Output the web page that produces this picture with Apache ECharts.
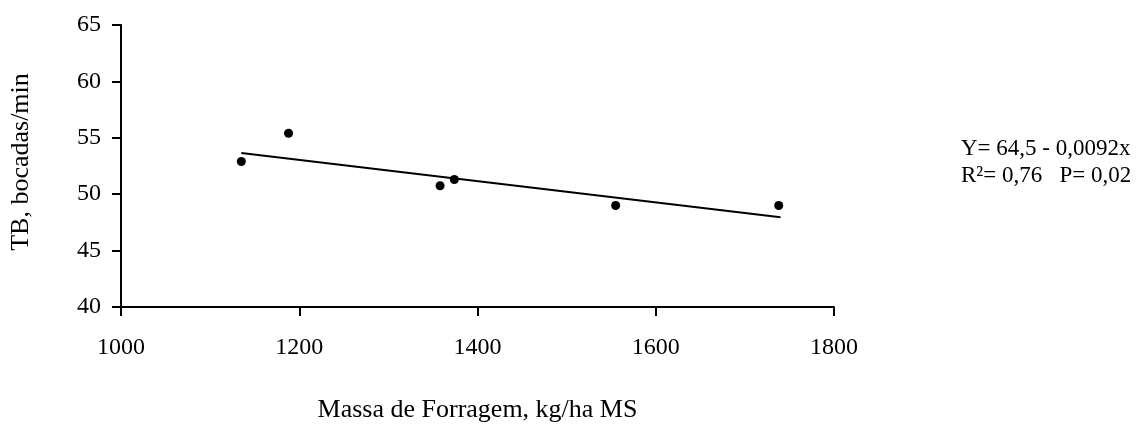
<!DOCTYPE html>
<html>
<head>
<meta charset="utf-8">
<script src="https://cdn.jsdelivr.net/npm/echarts@6/dist/echarts.min.js"></script>
<style>html,body{margin:0;padding:0;background:#fff}#c{width:1142px;height:425px}</style>
</head>
<body>
<div id="c"></div>
<script>
// Observed points (Massa de Forragem, TB)
const massa = [1135, 1188, 1358, 1374, 1555, 1738];
const tb = [52.9, 55.4, 50.75, 51.3, 49.0, 49.0];
// Regression line endpoints as drawn
const lineX = [1135, 1740];
const lineY = [53.65, 47.95];
const xTicks = [1000, 1200, 1400, 1600, 1800];
const yTicks = [40, 45, 50, 55, 60, 65];
const xName = 'Massa de Forragem, kg/ha MS';
const yName = 'TB, bocadas/min';
const eqLines = ['Y= 64,5 - 0,0092x', 'R²= 0,76   P= 0,02'];

const font = '"Liberation Serif", "Times New Roman", serif';
const chart = echarts.init(document.getElementById('c'));
chart.setOption({
  animation: false,
  backgroundColor: '#fff',
  grid: {left: 121, right: 308, top: 25, bottom: 118, containLabel: false, outerBoundsMode: 'none'},
  xAxis: {
    type: 'value', min: xTicks[0], max: xTicks[xTicks.length - 1], interval: 200,
    name: xName, nameLocation: 'middle', nameGap: 90, nameMoveOverlap: false,
    nameTextStyle: {fontFamily: font, fontSize: 26, color: '#000'},
    axisLine: {show: true, lineStyle: {color: '#000', width: 2}},
    axisTick: {show: true, inside: false, length: 9, lineStyle: {color: '#000', width: 2}},
    axisLabel: {fontFamily: font, fontSize: 24, color: '#000', margin: 29, formatter: v => String(v)},
    splitLine: {show: false}
  },
  yAxis: {
    type: 'value', min: yTicks[0], max: yTicks[yTicks.length - 1], interval: 5,
    axisLine: {show: true, lineStyle: {color: '#000', width: 2}},
    axisTick: {show: true, inside: false, length: 9, lineStyle: {color: '#000', width: 2}},
    axisLabel: {fontFamily: font, fontSize: 24, color: '#000', margin: 20, formatter: v => String(v)},
    splitLine: {show: false}
  },
  series: [
    {
      type: 'line', data: lineX.map((x, i) => [x, lineY[i]]),
      symbol: 'none', lineStyle: {color: '#000', width: 2}, z: 2
    },
    {
      type: 'scatter', data: massa.map((x, i) => [x, tb[i]]),
      symbol: 'circle', symbolSize: 9, itemStyle: {color: '#000', opacity: 1}, z: 3
    }
  ],
  graphic: [
    {type: 'text', x: 21, y: 162, rotation: Math.PI / 2,
     style: {text: yName, fontFamily: font, fontSize: 26, fill: '#000', align: 'center', verticalAlign: 'middle'}},
    {type: 'text', x: 961, y: 149, style: {text: eqLines[0], fontFamily: font, fontSize: 23, fill: '#000', verticalAlign: 'middle'}},
    {type: 'text', x: 961, y: 176, style: {text: eqLines[1], fontFamily: font, fontSize: 23, fill: '#000', verticalAlign: 'middle'}}
  ]
});
</script>
</body>
</html>
